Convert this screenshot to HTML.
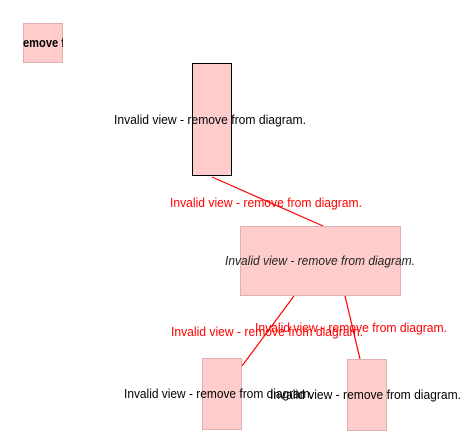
<!DOCTYPE html>
<html><head><meta charset="utf-8"><style>html,body{margin:0;padding:0;background:#fff;}svg{display:block;}</style></head>
<body>
<svg width="472" height="441" viewBox="0 0 472 441" xmlns="http://www.w3.org/2000/svg" font-family="Liberation Sans, sans-serif" font-size="12.5">
<defs><clipPath id="c1"><rect x="23" y="23" width="40" height="40"/></clipPath></defs>
<rect x="23.5" y="23.5" width="39" height="39" fill="#ffcccc" stroke="#e0b0b0"/>
<text x="23" y="47" font-weight="bold" clip-path="url(#c1)" fill="#000" textLength="42" lengthAdjust="spacingAndGlyphs">emove f</text>
<line x1="212" y1="177" x2="323" y2="226" stroke="#ff0000" stroke-width="1.2"/>
<line x1="294" y1="296" x2="242" y2="366" stroke="#ff0000" stroke-width="1.2"/>
<line x1="345" y1="296" x2="360" y2="359" stroke="#ff0000" stroke-width="1.2"/>
<rect x="192.5" y="63.5" width="39" height="112" fill="#ffcccc" stroke="#000"/>
<text x="114" y="124" textLength="192" lengthAdjust="spacingAndGlyphs" fill="#000">Invalid view - remove from diagram.</text>
<rect x="240.5" y="226.5" width="160" height="69" fill="#ffcccc" stroke="#e0b0b0"/>
<text x="225" y="265" font-style="italic" textLength="190" lengthAdjust="spacingAndGlyphs" fill="#222">Invalid view - remove from diagram.</text>
<rect x="202.5" y="358.5" width="39" height="71" fill="#ffcccc" stroke="#e0b0b0"/>
<rect x="347.5" y="359.5" width="39" height="71" fill="#ffcccc" stroke="#e0b0b0"/>
<text x="124" y="398" textLength="189" lengthAdjust="spacingAndGlyphs" fill="#000">Invalid view - remove from diagram.</text>
<text x="270" y="399" textLength="191" lengthAdjust="spacingAndGlyphs" fill="#000">Invalid view - remove from diagram.</text>
<text x="170" y="207" textLength="192" lengthAdjust="spacingAndGlyphs" fill="#ff0000">Invalid view - remove from diagram.</text>
<text x="171" y="336" textLength="192" lengthAdjust="spacingAndGlyphs" fill="#ff0000">Invalid view - remove from diagram.</text>
<text x="255" y="332" textLength="192" lengthAdjust="spacingAndGlyphs" fill="#ff0000">Invalid view - remove from diagram.</text>
</svg>
</body></html>
